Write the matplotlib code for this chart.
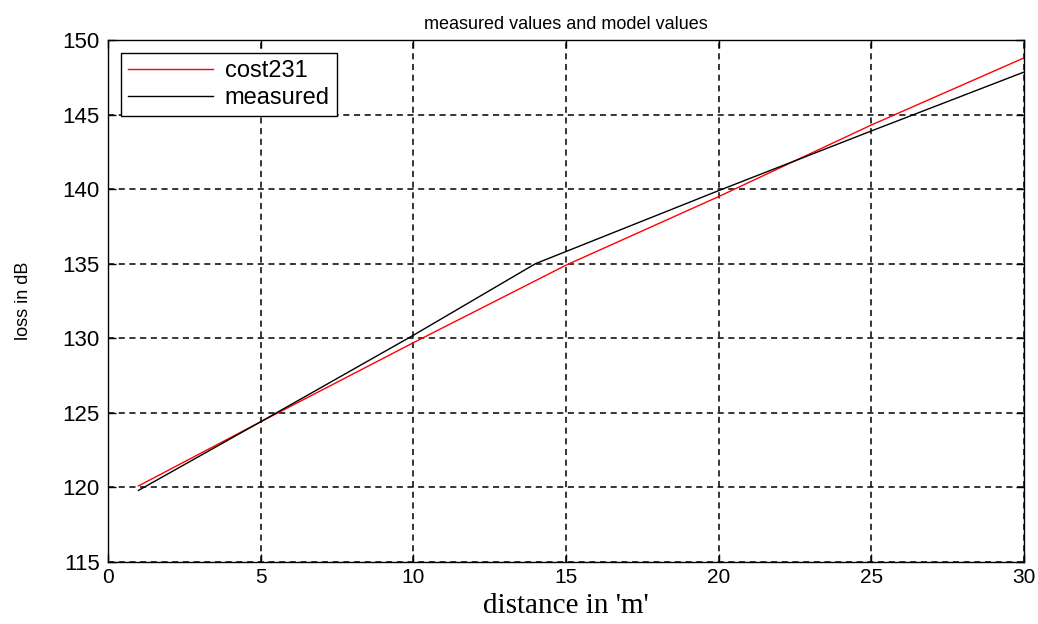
import matplotlib
matplotlib.use("Agg")
import matplotlib.pyplot as plt

# values
cost231_x = [1, 5, 10, 15, 20, 25, 30]
cost231_y = [120.1, 124.4, 129.7, 134.9, 139.5, 144.3, 148.8]

measured_x = [1, 5, 10, 14, 20, 25, 30]
measured_y = [119.8, 124.4, 130.2, 135.0, 139.9, 143.9, 147.85]

x_ticks = [0, 5, 10, 15, 20, 25, 30]
y_ticks = [115, 120, 125, 130, 135, 140, 145, 150]

plt.rcParams["font.family"] = ["Liberation Sans", "DejaVu Sans"]

fig = plt.figure(figsize=(10.38, 6.24), dpi=100)
ax = fig.add_axes([0.104, 0.0994, 0.8825, 0.8365])

ax.plot(cost231_x, cost231_y, color="red", lw=1.0, label="cost231")
ax.plot(measured_x, measured_y, color="black", lw=1.0, label="measured")

ax.set_xlim(0, 30)
ax.set_ylim(115, 150)
ax.set_xticks(x_ticks)
ax.set_yticks(y_ticks)
ax.tick_params(direction="in", length=6, width=1, top=True, right=True,
               labelsize=15, pad=4)
ax.tick_params(axis="y", labelsize=16, pad=6)
for s in ax.spines.values():
    s.set_linewidth(1.0)

ax.grid(True, color="black", lw=1.1, linestyle=(0, (4, 3)))

ax.set_title("measured values and model values", fontsize=13, pad=8)
ax.set_ylabel("loss in dB", fontsize=13, labelpad=22)
ax.set_xlabel("distance in 'm'", fontsize=21,
              family=["Liberation Serif", "DejaVu Serif"], labelpad=5)

leg = ax.legend(loc="upper left", fontsize=17, fancybox=False, framealpha=1,
                edgecolor="black", borderaxespad=0.55, handlelength=3.6,
                borderpad=0.3, labelspacing=0.2, handletextpad=0.5)
leg.get_frame().set_linewidth(1.0)

fig.savefig("out.png", dpi=100)
